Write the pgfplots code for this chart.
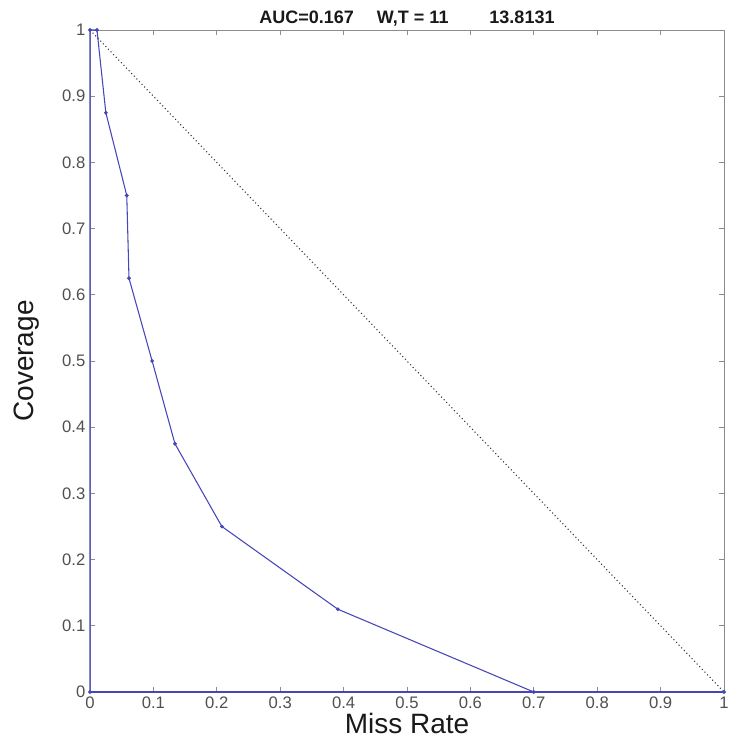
\documentclass[border=0pt]{standalone}
\usepackage{fontspec}
\setmainfont{Liberation Sans}
\usepackage{pgfplots}
\pgfplotsset{compat=1.18}
\definecolor{rocblue}{RGB}{70,70,185}
\definecolor{axgrey}{RGB}{140,140,140}
\definecolor{txtgrey}{RGB}{80,80,80}

\begin{document}
\begin{tikzpicture}
\begin{axis}[
    name=ax,
    at={(0,0)}, anchor=south west,
    scale only axis,
    width=475.5pt, height=496.5pt,
    xmin=0, xmax=1, ymin=0, ymax=1,
    xtick={0,0.1,...,1.0}, ytick={0,0.1,...,1.0},
    xticklabels={0,0.1,0.2,0.3,0.4,0.5,0.6,0.7,0.8,0.9,1},
    yticklabels={0,0.1,0.2,0.3,0.4,0.5,0.6,0.7,0.8,0.9,1},
    tick align=inside,
    major tick length=4pt,
    tick style={axgrey, line width=0.5pt},
    axis line style={axgrey, line width=0.7pt},
    ticklabel style={font=\fontsize{12.5}{14}\selectfont, text=txtgrey},
    /pgf/number format/assume math mode=true,
    xlabel={Miss Rate}, ylabel={Coverage},
    label style={font=\fontsize{21}{24}\selectfont, text=black!90},
    xlabel style={yshift=3pt},
    ylabel style={yshift=10pt},
    title={\bfseries AUC=0.167\quad\ W,T = 11\qquad\ 13.8131},
    title style={font=\fontsize{13.5}{15}\selectfont, yshift=-7pt, text=black!90},
    clip=false,
]
% diagonal reference
\addplot[black!80, dotted, line width=0.8pt] coordinates {(0,1) (1,0)};
% curve
\addplot[rocblue, line width=0.8pt, mark=*, mark size=1pt] coordinates {
    (0,0) (0,1) (0.011,1) (0.025,0.875) (0.058,0.75) (0.0615,0.625)
    (0.098,0.5) (0.134,0.375) (0.208,0.25) (0.391,0.125) (0.700,0) (1,0)
};
\addplot[rocblue, line width=0.8pt] coordinates {(0,0) (1,0)};
\end{axis}
\useasboundingbox (-67.5pt,-36pt) rectangle (478.5pt,519pt);
\end{tikzpicture}
\end{document}
